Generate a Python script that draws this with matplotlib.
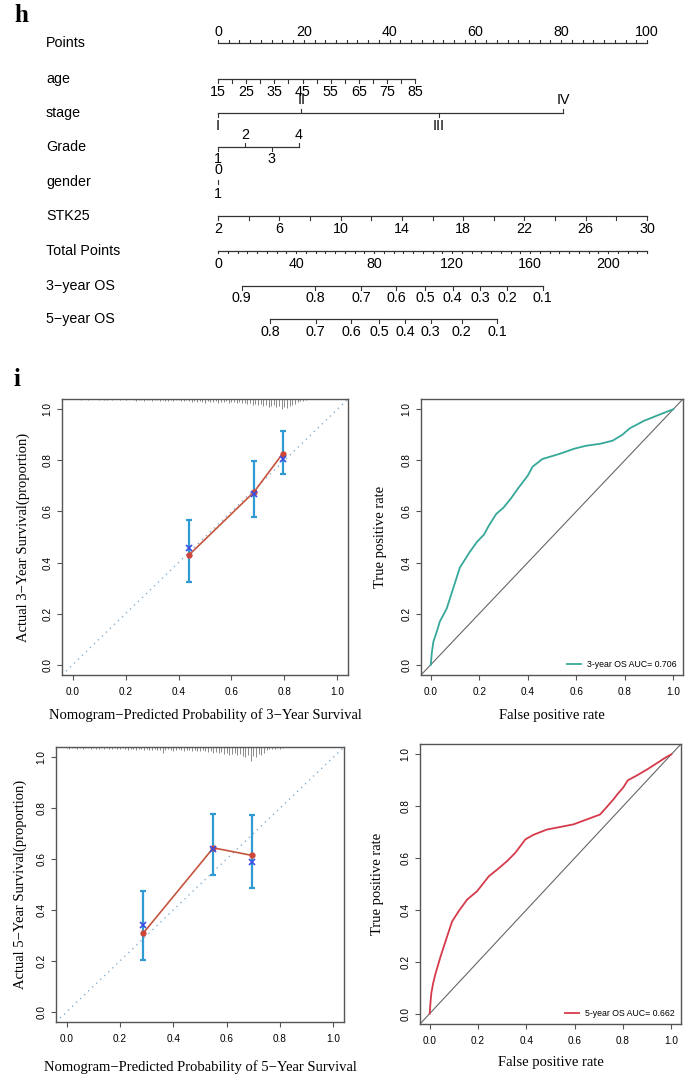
import numpy as np
import matplotlib.pyplot as plt

plt.rcParams['font.family'] = ['Liberation Sans', 'DejaVu Sans']

# ---- nomogram (panel h) ----
points_labels = [0, 20, 40, 60, 80, 100]
age_values = [15, 20, 25, 30, 35, 40, 45, 50, 55, 60, 65, 70, 75, 80, 85]
age_labels = [15, 25, 35, 45, 55, 65, 75, 85]
age_max_pts = 46.0
stage_levels = ['I', 'II', 'III', 'IV']
stage_pts = [0, 19.4, 51.4, 80.4]
grade_levels = ['1', '2', '3', '4']
grade_pts = [0, 6.3, 12.5, 18.8]
gender_levels = ['0', '1']
gender_pts = [0, 0]
stk25_values = [2, 4, 6, 8, 10, 12, 14, 16, 18, 20, 22, 24, 26, 28, 30]
stk25_labels = [2, 6, 10, 14, 18, 22, 26, 30]
total_labels = [0, 40, 80, 120, 160, 200]
total_max = 220
os3_probs = ['0.9', '0.8', '0.7', '0.6', '0.5', '0.4', '0.3', '0.2', '0.1']
os3_total = [12.1, 49.8, 73.3, 91.3, 106.3, 120.4, 134.3, 148.2, 166.6]
os5_probs = ['0.8', '0.7', '0.6', '0.5', '0.4', '0.3', '0.2', '0.1']
os5_total = [26.7, 50.0, 68.2, 82.8, 96.0, 109.0, 124.9, 143.3]

# ---- calibration (panel i) ----
cal3_pred = [0.441, 0.685, 0.793]
cal3_obs = [0.431, 0.676, 0.826]
cal3_corr = [0.457, 0.667, 0.805]
cal3_lo = [0.324, 0.578, 0.745]
cal3_hi = [0.565, 0.797, 0.913]
rug3_x = np.round(np.arange(0.03, 0.885, 0.01), 2)
rug3_n = [1, 0, 0, 1, 0, 0, 0, 1, 0, 1, 1, 0, 1, 0, 0, 1, 0, 1,
          0, 0, 1, 2, 1, 1, 2, 1, 1, 2, 1, 1, 2, 1, 2, 2, 1, 2, 1, 1, 2, 2, 1, 2,
          3, 2, 3, 2, 3, 4, 2, 3, 3, 2, 4, 3, 3, 2, 4, 3, 3, 4, 3, 4,
          4, 5, 4, 6, 5, 6, 5, 7, 6, 8, 7, 6, 8, 7, 10, 8, 9, 7,
          6, 5, 3, 2, 2, 1]

cal5_pred = [0.288, 0.550, 0.696]
cal5_obs = [0.310, 0.644, 0.614]
cal5_corr = [0.342, 0.640, 0.588]
cal5_lo = [0.203, 0.539, 0.488]
cal5_hi = [0.473, 0.776, 0.773]
rug5_x = np.round(np.arange(0.0, 0.815, 0.01), 2)
rug5_n = [1, 2, 1, 1, 2, 1, 2, 1, 1, 2, 1, 2, 2, 1, 2, 1, 2, 2, 1, 2,
          2, 1, 2, 3, 2, 2, 3, 2, 2, 3, 2, 3, 3, 2, 3,
          3, 6, 3, 2, 3, 4, 3, 2, 3, 4, 3, 3, 4, 3, 4,
          4, 3, 4, 5, 4, 6, 5, 6, 5, 7, 6, 8, 7, 6, 8, 7, 9, 10, 8, 14, 9, 10, 7, 8, 6,
          3, 2, 2, 2, 1, 2, 1]

# ---- ROC ----
fpr3 = [0, 0.005, 0.011, 0.025, 0.038, 0.066, 0.093, 0.12, 0.16, 0.19, 0.22, 0.24, 0.27, 0.30,
        0.33, 0.36, 0.40, 0.42, 0.46, 0.53, 0.59, 0.64, 0.70, 0.75, 0.79, 0.82, 0.88, 0.93, 1.0]
tpr3 = [0, 0.05, 0.09, 0.13, 0.17, 0.22, 0.30, 0.38, 0.44, 0.48, 0.51, 0.545, 0.59, 0.615,
        0.65, 0.69, 0.74, 0.775, 0.805, 0.825, 0.845, 0.857, 0.865, 0.877, 0.90, 0.925, 0.955, 0.974, 1.0]
fpr5 = [0, 0.004, 0.007, 0.015, 0.025, 0.045, 0.073, 0.093, 0.12, 0.155, 0.196, 0.245, 0.28, 0.32,
        0.354, 0.396, 0.43, 0.485, 0.54, 0.595, 0.65, 0.705, 0.73, 0.76, 0.78, 0.80, 0.82, 0.86, 0.90,
        0.95, 0.98, 1.0]
tpr5 = [0, 0.05, 0.08, 0.12, 0.157, 0.22, 0.30, 0.356, 0.395, 0.44, 0.472, 0.53, 0.556, 0.588,
        0.62, 0.672, 0.69, 0.71, 0.72, 0.73, 0.749, 0.768, 0.794, 0.826, 0.85, 0.871, 0.90, 0.92, 0.942,
        0.972, 0.99, 1.0]
auc3 = 0.706
auc5 = 0.662

W, H = 685, 1079
fig = plt.figure(figsize=(6.85, 10.79), dpi=100)


def add_ax(l, t, r, b):
    return fig.add_axes([l / W, 1 - b / H, (r - l) / W, (b - t) / H])


LC = '#333333'
FS = 10.3

nomo = add_ax(0, 0, 685, 345)
ppx = 4.29
nomo.set_xlim(-218 / ppx, (685 - 218) / ppx)
nomo.set_ylim(345, 0)
nomo.axis('off')


def nomo_scale(y, label, tick_pts, tick_dirs, lab_pts, lab_txt, lab_dirs, tlen=4, loff=12.5):
    nomo.text(-40.1, y, label, fontsize=FS, va='center', ha='left')
    nomo.plot([min(tick_pts), max(tick_pts)], [y, y], color=LC, lw=0.9)
    for p, d in zip(tick_pts, tick_dirs):
        nomo.plot([p, p], [y, y + d * tlen], color=LC, lw=0.8)
    for p, t, d in zip(lab_pts, lab_txt, lab_dirs):
        nomo.text(p, y + d * loff, t, fontsize=FS, ha='center', va='center')


pts_ticks = np.arange(0, 100.1, 2.5)
nomo_scale(43, 'Points', pts_ticks, [-1] * len(pts_ticks), points_labels,
           [str(v) for v in points_labels], [-1] * 6, tlen=3, loff=11)
age_pts = [(a - 15) / 70 * age_max_pts for a in age_values]
nomo_scale(79, 'age', age_pts, [1] * len(age_pts),
           [(a - 15) / 70 * age_max_pts for a in age_labels], [str(a) for a in age_labels],
           [1] * len(age_labels), loff=13)
stage_dirs = [1, -1, 1, -1]
nomo_scale(113, 'stage', stage_pts, stage_dirs, stage_pts, stage_levels, stage_dirs, loff=13.5)
grade_dirs = [1, -1, 1, -1]
nomo_scale(147, 'Grade', grade_pts, grade_dirs, grade_pts, grade_levels, grade_dirs, loff=12)
nomo_scale(182, 'gender', gender_pts, [1, -1], gender_pts, gender_levels, [-1, 1], tlen=2, loff=12)
stk_pts = [(v - 2) / 28 * 100 for v in stk25_values]
nomo_scale(216, 'STK25', stk_pts, [1] * len(stk_pts),
           [(v - 2) / 28 * 100 for v in stk25_labels], [str(v) for v in stk25_labels],
           [1] * len(stk25_labels), loff=13)
tot_ticks = np.arange(0, total_max + 0.1, 5)
nomo_scale(251, 'Total Points', tot_ticks / total_max * 100, [1] * len(tot_ticks),
           [v / total_max * 100 for v in total_labels], [str(v) for v in total_labels],
           [1] * len(total_labels), tlen=2.5, loff=13)
nomo_scale(286, '3\u2212year OS', [v / total_max * 100 for v in os3_total], [1] * len(os3_total),
           [v / total_max * 100 for v in os3_total], os3_probs, [1] * len(os3_total), loff=12.5)
nomo_scale(319, '5\u2212year OS', [v / total_max * 100 for v in os5_total], [1] * len(os5_total),
           [v / total_max * 100 for v in os5_total], os5_probs, [1] * len(os5_total), loff=13)

fig.text(14 / W, 1 - 16 / H, 'h', fontsize=18, fontweight='bold', family='Liberation Serif',
         va='center', ha='left')
fig.text(14 / W, 1 - 379 / H, 'i', fontsize=18, fontweight='bold', family='Liberation Serif',
         va='center', ha='left')

SERIF = 'Liberation Serif'
ticks = [0.0, 0.2, 0.4, 0.6, 0.8, 1.0]


def style(ax, xlabel, ylabel, xl_y, yl_x):
    ax.set_xlim(-0.04, 1.04)
    ax.set_ylim(-0.04, 1.04)
    ax.set_xticks(ticks)
    ax.set_yticks(ticks)
    ax.set_xticklabels(['%.1f' % t for t in ticks])
    ax.set_yticklabels(['%.1f' % t for t in ticks])
    for s in ax.spines.values():
        s.set_color('#555555')
        s.set_linewidth(1.0)
    ax.tick_params(direction='out', length=3.8, width=0.8, color='#555555', labelsize=7.2)
    ax.tick_params(axis='x', pad=5)
    ax.tick_params(axis='y', labelrotation=90, pad=3)
    for lab in ax.get_yticklabels():
        lab.set_va('center')
    ax.set_xlabel(xlabel, family=SERIF, fontsize=10.5, va='center')
    ax.set_ylabel(ylabel, family=SERIF, fontsize=10.5, va='center')
    ax.xaxis.set_label_coords(0.5, xl_y)
    ax.yaxis.set_label_coords(yl_x, 0.5)


def calib(ax, pred, obs, corr, lo, hi, rug_x, rug_n):
    ax.plot([-0.04, 1.04], [-0.04, 1.04], ls=(0, (1, 3)), color='#8ab2d2', lw=1)
    ax.vlines(rug_x, 1.04 - np.array(rug_n) * 0.0039, 1.04, color='#8a8a8a', lw=0.7)
    lo = np.array(lo)
    hi = np.array(hi)
    mid = (lo + hi) / 2
    ax.errorbar(pred, mid, yerr=[mid - lo, hi - mid], fmt='none', ecolor='#2f9ad3',
                elinewidth=1.6, capsize=2.5, capthick=1.6)
    ax.plot(pred, obs, color='#c4553f', lw=1.2)
    ax.plot(pred, obs, 'o', color='#d0453a', ms=3.5)
    ax.plot(pred, corr, 'x', color='#3a4fe0', ms=4, mew=1.2)


def roc(ax, fpr, tpr, color, label):
    ax.plot([-0.04, 1.04], [-0.04, 1.04], color='#666666', lw=0.8)
    ax.plot(fpr, tpr, color=color, lw=1.3, label=label)
    ax.legend(loc='lower right', frameon=False, fontsize=6.3, handlelength=1.6,
              handletextpad=0.7, borderaxespad=0.3)


ax1 = add_ax(62, 399, 348, 675)
calib(ax1, cal3_pred, cal3_obs, cal3_corr, cal3_lo, cal3_hi, rug3_x, rug3_n)
style(ax1, 'Nomogram\u2212Predicted Probability of 3\u2212Year Survival',
      'Actual 3\u2212Year Survival(proportion)', -0.145, -0.136)

ax2 = add_ax(421, 399, 683, 675)
roc(ax2, fpr3, tpr3, '#35a89a', '3-year OS AUC= %.3f' % auc3)
style(ax2, 'False positive rate', 'True positive rate', -0.145, -0.153)

ax3 = add_ax(56, 747, 344, 1022)
calib(ax3, cal5_pred, cal5_obs, cal5_corr, cal5_lo, cal5_hi, rug5_x, rug5_n)
style(ax3, 'Nomogram\u2212Predicted Probability of 5\u2212Year Survival',
      'Actual 5\u2212Year Survival(proportion)', -0.164, -0.125)

ax4 = add_ax(420, 744, 681, 1024)
roc(ax4, fpr5, tpr5, '#d63a4a', '5-year OS AUC= %.3f' % auc5)
style(ax4, 'False positive rate', 'True positive rate', -0.139, -0.161)

fig.savefig('out.png', dpi=100)
